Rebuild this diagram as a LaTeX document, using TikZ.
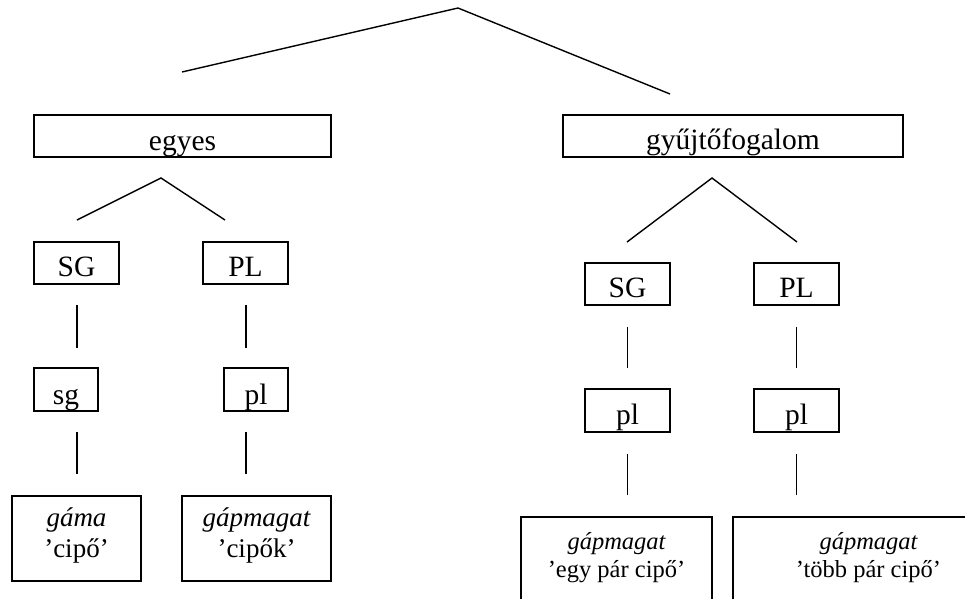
\documentclass[tikz,border=0pt]{standalone}
\usepackage{fontspec}
\setmainfont{Liberation Serif}
\begin{document}
\begin{tikzpicture}[x=1pt,y=-1pt,
  box/.style={draw, line width=1.6pt, inner sep=0pt, rectangle},
  lbl/.style={anchor=base, inner sep=0pt, font=\fontsize{29.5}{34}\selectfont},
  lblL/.style={anchor=base, inner sep=0pt, font=\fontsize{27}{31}\selectfont},
  lblR/.style={anchor=base, inner sep=0pt, font=\fontsize{24.5}{28}\selectfont},
  conn/.style={line width=1.4pt}]
\clip (0,0) rectangle (965,598);
\fill[white] (0,0) rectangle (965,598);

% boxes
\node[box, minimum width=297pt, minimum height=42pt] (egyes) at (182.5,136) {};
\node[box, minimum width=340pt, minimum height=42pt] (gyujto) at (733,136) {};
\node[box, minimum width=85pt, minimum height=42pt] (SGL) at (76.5,263) {};
\node[box, minimum width=85pt, minimum height=42pt] (PLL) at (245.5,263) {};
\node[box, minimum width=64pt, minimum height=43pt] (sgL) at (66,389.5) {};
\node[box, minimum width=64pt, minimum height=43pt] (plL) at (256,389.5) {};
\node[box, minimum width=129pt, minimum height=85pt] (gama) at (76.5,538.5) {};
\node[box, minimum width=149pt, minimum height=85pt] (gapL) at (256.5,538.5) {};
\node[box, minimum width=85pt, minimum height=42pt] (SGR) at (627.5,284) {};
\node[box, minimum width=85pt, minimum height=42pt] (PLR) at (796.5,284) {};
\node[box, minimum width=85pt, minimum height=43pt] (plR1) at (627.5,410.5) {};
\node[box, minimum width=85pt, minimum height=43pt] (plR2) at (796.5,410.5) {};
\node[box, minimum width=191pt, minimum height=123pt] (egypar) at (616.5,578.5) {};
\node[box, minimum width=271pt, minimum height=123pt] (tobb) at (868.5,578.5) {};

% texts
\node[lbl] (t-egyes) at (182.5,150) {egyes};
\node[lbl] (t-gyujto) at (733,149) {gyűjtőfogalom};
\node[lbl] (t-SGL) at (76.5,276) {SG};
\node[lbl] (t-PLL) at (245.5,276) {PL};
\node[lbl] (t-sgL) at (66,404) {sg};
\node[lbl] (t-plL) at (256,404) {pl};
\node[lbl] (t-SGR) at (627.5,297) {SG};
\node[lbl] (t-PLR) at (796.5,297) {PL};
\node[lbl] (t-plR1) at (627.5,424) {pl};
\node[lbl] (t-plR2) at (796.5,424) {pl};
\node[lblL] (t-gama1) at (76.5,526.5) {\itshape gáma};
\node[lblL] (t-gama2) at (76.5,557.5) {’cipő’};
\node[lblL] (t-gapL1) at (256.5,526.5) {\itshape gápmagat};
\node[lblL] (t-gapL2) at (256.5,557.5) {’cipők’};
\node[lblR] (t-egy1) at (616.5,549) {\itshape gápmagat};
\node[lblR] (t-egy2) at (616.5,577) {’egy pár cipő’};
\node[lblR] (t-tobb1) at (868.5,549) {\itshape gápmagat};
\node[lblR] (t-tobb2) at (868.5,577) {’több pár cipő’};

% branch points
\coordinate (top) at (458,8);
\coordinate (topL) at (182,72);
\coordinate (topR) at (670,94);
\coordinate (apL) at (161,178);
\coordinate (apLl) at (77,220);
\coordinate (apLr) at (225,220);
\coordinate (apR) at (712,178);
\coordinate (apRl) at (627,242);
\coordinate (apRr) at (797,242);

\draw[conn] (topL) -- (top) -- (topR);
\draw[conn] (apLl) -- (apL) -- (apLr);
\draw[conn] (apRl) -- (apR) -- (apRr);

% vertical connectors
\draw[conn, shorten <=21pt, shorten >=20pt] (77,284) coordinate (vL1a) -- (77,368) coordinate (vL1b);
\draw[conn, shorten <=21pt, shorten >=20pt] (246,284) coordinate (vL2a) -- (246,368) coordinate (vL2b);
\draw[conn, shorten <=21pt, shorten >=22pt] (77,411) coordinate (vL3a) -- (77,496) coordinate (vL3b);
\draw[conn, shorten <=21pt, shorten >=22pt] (246,411) coordinate (vL4a) -- (246,496) coordinate (vL4b);
\draw[conn, shorten <=21pt, shorten >=20pt] (SGR.south) -- (SGR.south |- plR1.north);
\draw[conn, shorten <=21pt, shorten >=20pt] (PLR.south) -- (PLR.south |- plR2.north);
\draw[conn, shorten <=21pt, shorten >=21pt] (plR1.south) -- (plR1.south |- egypar.north);
\draw[conn, shorten <=21pt, shorten >=21pt] (plR2.south) -- (plR2.south |- tobb.north);
\end{tikzpicture}
\end{document}
